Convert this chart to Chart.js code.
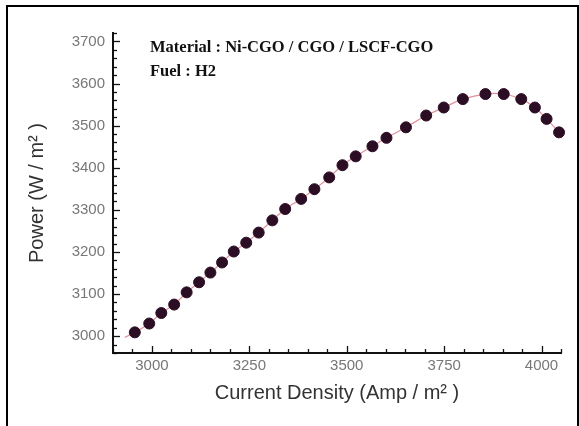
<!DOCTYPE html>
<html lang="en">
<head>
  <meta charset="UTF-8" />
  <title>Power vs Current Density</title>
  <script src="https://cdn.jsdelivr.net/npm/chart.js"></script>
  <style>
    html, body { margin: 0; padding: 0; background: #fff; }
    #wrap { position: relative; width: 579px; height: 426px; overflow: hidden; }
    #frame {
      position: absolute; left: 6px; top: 5px; width: 569px; height: 440px;
      border: 2px solid #000; border-bottom: none; pointer-events: none;
    }
    canvas { display: block; }
  </style>
</head>
<body>
  <div id="wrap">
    <canvas id="chart" width="579" height="426"></canvas>
    <div id="frame"></div>
  </div>

  <script>
    // measured points (current density in Amp/m2, power in W/m2)
    const currentDensity = [2956, 2993, 3024, 3057, 3089, 3121, 3150, 3180, 3210, 3242,
      3274, 3309, 3342, 3383, 3417, 3455, 3489, 3523, 3566, 3602,
      3652, 3704, 3749, 3798, 3856, 3903, 3948, 3983, 4013, 4045];
    const power = [3009, 3030, 3055, 3075, 3104, 3128, 3151, 3175, 3201, 3222,
      3246, 3275, 3302, 3326, 3349, 3377, 3406, 3427, 3451, 3471,
      3496, 3524, 3543, 3563, 3575, 3575, 3563, 3543, 3516, 3484];

    // fitted curve starts a bit left of the first point
    const curveX = [2930].concat(currentDensity);
    const curveY = [2997].concat(power);

    const xTicks = [3000, 3250, 3500, 3750, 4000];
    const yTicks = [3000, 3100, 3200, 3300, 3400, 3500, 3600, 3700];
    const xRange = [2900, 4050];
    const yRange = [2960, 3720];
    const xMinorStep = 50;
    const yMinorStep = 20;

    const noteLines = ["Material : Ni-CGO / CGO / LSCF-CGO", "Fuel : H2"];

    const toXY = (xs, ys) => xs.map((x, i) => ({ x, y: ys[i] }));

    // inward ticks, major + minor, like the original plot
    const innerTicks = {
      id: "innerTicks",
      afterDraw(chart) {
        const { ctx, chartArea } = chart;
        const xs = chart.scales.x, ys = chart.scales.y;
        ctx.save();
        ctx.strokeStyle = "#111";
        ctx.lineWidth = 1.3;
        for (let v = xRange[0]; v <= xRange[1]; v += xMinorStep) {
          const px = Math.round(xs.getPixelForValue(v)) + 0.5;
          const len = xTicks.includes(v) ? 7 : 4;
          ctx.beginPath();
          ctx.moveTo(px, chartArea.bottom);
          ctx.lineTo(px, chartArea.bottom - len);
          ctx.stroke();
        }
        for (let v = yRange[0]; v <= yRange[1]; v += yMinorStep) {
          const py = Math.round(ys.getPixelForValue(v)) + 0.5;
          const len = yTicks.includes(v) ? 7 : 4;
          ctx.beginPath();
          ctx.moveTo(chartArea.left, py);
          ctx.lineTo(chartArea.left + len, py);
          ctx.stroke();
        }
        ctx.restore();
      }
    };

    const notes = {
      id: "notes",
      afterDraw(chart) {
        const { ctx } = chart;
        ctx.save();
        ctx.fillStyle = "#111";
        ctx.font = "bold 16.5px 'Liberation Serif', 'Times New Roman', serif";
        ctx.textBaseline = "alphabetic";
        ctx.fillText(noteLines[0], 150, 52);
        ctx.fillText(noteLines[1], 150, 76);
        ctx.restore();
      }
    };

    const plainNumber = v => String(v);

    new Chart(document.getElementById("chart"), {
      type: "scatter",
      data: {
        datasets: [
          {
            label: "Power",
            data: toXY(currentDensity, power),
            backgroundColor: "#2b0d24",
            borderColor: "#2b0d24",
            pointRadius: 5.5,
            clip: false,
            order: 1
          },
          {
            type: "line",
            label: "Fit",
            data: toXY(curveX, curveY),
            borderColor: "#e3909c",
            borderWidth: 1.2,
            pointRadius: 0,
            tension: 0.4,
            fill: false,
            clip: false,
            order: 2
          }
        ]
      },
      options: {
        responsive: false,
        animation: false,
        layout: { padding: { left: 12, right: 18, top: 33, bottom: 0 } },
        plugins: {
          legend: { display: false },
          tooltip: { enabled: false }
        },
        scales: {
          x: {
            type: "linear",
            min: xRange[0],
            max: xRange[1],
            afterBuildTicks: s => { s.ticks = xTicks.map(v => ({ value: v })); },
            afterFit: s => { s.height = 73; },
            grid: { display: false, drawTicks: false },
            border: { display: true, color: "#111", width: 2 },
            ticks: {
              color: "#777",
              padding: 4,
              maxRotation: 0,
              callback: plainNumber,
              font: { family: "'Liberation Sans', Arial, sans-serif", size: 15 }
            },
            title: {
              display: true,
              text: "Current Density (Amp / m² )",
              color: "#333",
              padding: { top: 0, bottom: 21 },
              font: { family: "'Liberation Sans', Arial, sans-serif", size: 20 }
            }
          },
          y: {
            type: "linear",
            min: yRange[0],
            max: yRange[1],
            afterBuildTicks: s => { s.ticks = yTicks.map(v => ({ value: v })); },
            afterFit: s => { s.width = 101; },
            grid: { display: false, drawTicks: false },
            border: { display: true, color: "#111", width: 2 },
            ticks: {
              color: "#777",
              padding: 8,
              callback: plainNumber,
              font: { family: "'Liberation Sans', Arial, sans-serif", size: 15 }
            },
            title: {
              display: true,
              text: "Power (W / m² )",
              color: "#333",
              padding: { top: 13, bottom: 0 },
              font: { family: "'Liberation Sans', Arial, sans-serif", size: 20 }
            }
          }
        }
      },
      plugins: [innerTicks, notes]
    });
  </script>
</body>
</html>
